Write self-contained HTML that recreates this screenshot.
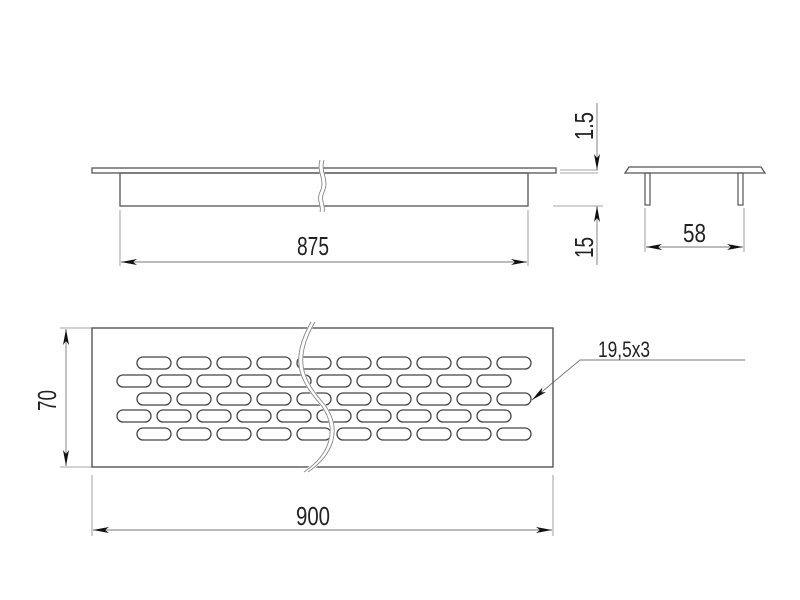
<!DOCTYPE html>
<html><head><meta charset="utf-8"><style>
html,body{margin:0;padding:0;background:#fff;}
svg{display:block}
text{font-family:"Liberation Sans",sans-serif;font-size:26px;fill:#222;}
</style></head><body>
<svg width="800" height="600" viewBox="0 0 800 600" xmlns="http://www.w3.org/2000/svg">
<defs>
<marker id="a" viewBox="0 0 16 6" refX="16" refY="3" markerWidth="16" markerHeight="6" markerUnits="userSpaceOnUse" orient="auto-start-reverse"><path d="M0,0 L16,3 L0,6 L4,3 z" fill="#111"/></marker>
<g id="slot"><rect x="0" y="-6" width="34" height="12" rx="6" fill="none" stroke="#444" stroke-width="1.3"/></g>
</defs>
<g stroke="#555" fill="none">
<rect x="92" y="168" width="464" height="5" stroke-width="1.3"/>
<rect x="120" y="173" width="408" height="33" stroke-width="1.3"/>
<path d="M322,160 C318,172 328,180 322,192 C318,200 324,206 322,212" stroke="#fff" stroke-width="5"/>
<path d="M320,160 C316,172 326,180 320,192 C316,200 322,206 320,212 M324,160 C320,172 330,180 324,192 C320,200 326,206 324,212" stroke="#777" stroke-width="0.8"/>
<g stroke="#888" stroke-width="0.8">
<line x1="120" y1="210" x2="120" y2="266"/><line x1="528" y1="210" x2="528" y2="266"/>
<line x1="560" y1="170" x2="598" y2="170"/><line x1="560" y1="173" x2="598" y2="173"/>
<line x1="553" y1="206" x2="603" y2="206"/>
<line x1="645" y1="208" x2="645" y2="252"/><line x1="744" y1="208" x2="744" y2="252"/>
<line x1="60" y1="328" x2="92" y2="328"/><line x1="60" y1="467" x2="92" y2="467"/>
<line x1="92" y1="475" x2="92" y2="536"/><line x1="553" y1="475" x2="553" y2="536"/>
</g>
<g stroke="#777" stroke-width="0.9">
<line x1="121" y1="262" x2="527" y2="262" marker-start="url(#a)" marker-end="url(#a)"/>
<line x1="597" y1="103" x2="597" y2="170" marker-end="url(#a)"/>
<line x1="597" y1="265" x2="597" y2="206" marker-end="url(#a)"/>
<line x1="646" y1="247" x2="743" y2="247" marker-start="url(#a)" marker-end="url(#a)"/>
<line x1="66" y1="329" x2="66" y2="466" marker-start="url(#a)" marker-end="url(#a)"/>
<line x1="93" y1="530" x2="552" y2="530" marker-start="url(#a)" marker-end="url(#a)"/>
<polyline points="745,360 580,360 532,400" marker-end="url(#a)"/>
</g>
<path d="M625,173 L629,167 L761,167 L765,173 Z" stroke-width="1.3"/>
<rect x="645" y="173" width="5" height="32" stroke-width="1.2"/>
<rect x="738" y="173" width="5" height="32" stroke-width="1.2"/>
<rect x="92" y="328" width="461" height="139" stroke-width="1.4"/>
</g>
<g>
<use href="#slot" x="137" y="363"/><use href="#slot" x="177" y="363"/><use href="#slot" x="217" y="363"/><use href="#slot" x="257" y="363"/><use href="#slot" x="297" y="363"/><use href="#slot" x="337" y="363"/><use href="#slot" x="377" y="363"/><use href="#slot" x="417" y="363"/><use href="#slot" x="457" y="363"/><use href="#slot" x="497" y="363"/>
<use href="#slot" x="117" y="381"/><use href="#slot" x="157" y="381"/><use href="#slot" x="197" y="381"/><use href="#slot" x="237" y="381"/><use href="#slot" x="277" y="381"/><use href="#slot" x="317" y="381"/><use href="#slot" x="357" y="381"/><use href="#slot" x="397" y="381"/><use href="#slot" x="437" y="381"/><use href="#slot" x="477" y="381"/>
<use href="#slot" x="137" y="399"/><use href="#slot" x="177" y="399"/><use href="#slot" x="217" y="399"/><use href="#slot" x="257" y="399"/><use href="#slot" x="297" y="399"/><use href="#slot" x="337" y="399"/><use href="#slot" x="377" y="399"/><use href="#slot" x="417" y="399"/><use href="#slot" x="457" y="399"/><use href="#slot" x="497" y="399"/>
<use href="#slot" x="117" y="416"/><use href="#slot" x="157" y="416"/><use href="#slot" x="197" y="416"/><use href="#slot" x="237" y="416"/><use href="#slot" x="277" y="416"/><use href="#slot" x="317" y="416"/><use href="#slot" x="357" y="416"/><use href="#slot" x="397" y="416"/><use href="#slot" x="437" y="416"/><use href="#slot" x="477" y="416"/>
<use href="#slot" x="137" y="434"/><use href="#slot" x="177" y="434"/><use href="#slot" x="217" y="434"/><use href="#slot" x="257" y="434"/><use href="#slot" x="297" y="434"/><use href="#slot" x="337" y="434"/><use href="#slot" x="377" y="434"/><use href="#slot" x="417" y="434"/><use href="#slot" x="457" y="434"/><use href="#slot" x="497" y="434"/>
</g>
<g fill="none">
<path d="M313,322 C291,360 301,380 323,405 C341,430 331,455 306,472" stroke="#fff" stroke-width="5"/>
<path d="M311,322 C289,360 299,380 321,405 C339,430 329,455 304,472 M315,322 C293,360 303,380 325,405 C343,430 333,455 308,472" stroke="#888" stroke-width="0.9"/>
</g>
<text x="297" y="255" textLength="32" lengthAdjust="spacingAndGlyphs">875</text>
<text x="683" y="242" textLength="23" lengthAdjust="spacingAndGlyphs">58</text>
<text x="296" y="525" textLength="34" lengthAdjust="spacingAndGlyphs">900</text>
<text x="598" y="357" textLength="52" lengthAdjust="spacingAndGlyphs" style="font-size:22px">19,5x3</text>
<text transform="translate(593,140) rotate(-90)" textLength="28" lengthAdjust="spacingAndGlyphs">1.5</text>
<text transform="translate(593,258) rotate(-90)" textLength="21" lengthAdjust="spacingAndGlyphs">15</text>
<text transform="translate(56,411) rotate(-90)" textLength="21" lengthAdjust="spacingAndGlyphs">70</text>
</svg>
</body></html>
